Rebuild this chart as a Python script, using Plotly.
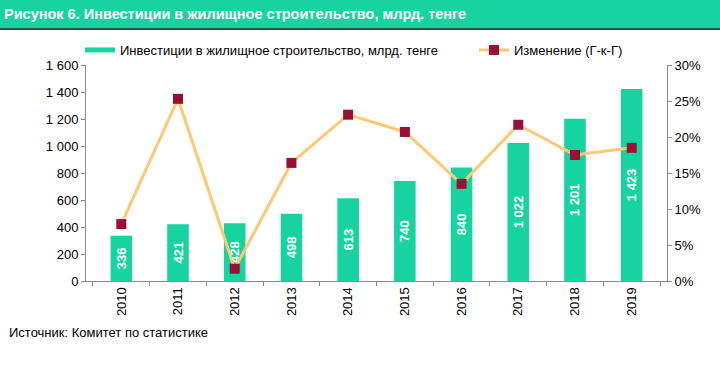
import plotly.graph_objects as go

years = ["2010", "2011", "2012", "2013", "2014", "2015", "2016", "2017", "2018", "2019"]
investments = [336, 421, 428, 498, 613, 740, 840, 1022, 1201, 1423]
change_pct = [7.9, 25.3, 1.7, 16.4, 23.1, 20.7, 13.5, 21.7, 17.5, 18.5]
left_ticks = [0, 200, 400, 600, 800, 1000, 1200, 1400, 1600]
left_tick_labels = ["0", "200", "400", "600", "800", "1 000", "1 200", "1 400", "1 600"]
right_ticks = [0, 5, 10, 15, 20, 25, 30]
right_tick_labels = ["0%", "5%", "10%", "15%", "20%", "25%", "30%"]

title_text = "Рисунок 6. Инвестиции в жилищное строительство, млрд. тенге"
bar_name = "Инвестиции в жилищное строительство, млрд. тенге"
line_name = "Изменение (Г-к-Г)"
source_text = "Источник: Комитет по статистике"

GREEN = "#16D39F"
ORANGE = "#FFC874"
RED = "#9A0F36"
AXIS = "#8C8C8C"
FONT = "Liberation Sans, Arial, sans-serif"

L, R, T, B = 86, 53, 65, 84
PW, PH = 720 - L - R, 365 - T - B

fig = go.Figure()
fig.add_trace(go.Bar(
    x=years, y=investments, marker=dict(color=GREEN, line=dict(width=0)),
    texttemplate="<b>%{y:,.0f}</b>", textposition="inside", insidetextanchor="middle",
    textangle=-90, textfont=dict(color="white", size=13, family=FONT),
    showlegend=False, name=bar_name,
))
# legend entry for bars (thick line as rectangle swatch)
fig.add_trace(go.Scatter(
    x=[None], y=[None], mode="lines", line=dict(color=GREEN, width=5),
    name=bar_name, showlegend=True, legend="legend",
))
fig.add_trace(go.Scatter(
    x=years, y=change_pct, yaxis="y2", mode="lines+markers",
    line=dict(color=ORANGE, width=3),
    marker=dict(symbol="square", size=10, color=RED, line=dict(width=0)),
    name=line_name, legend="legend2",
))

legend_common = dict(orientation="h", xref="container", yref="container",
                     y=1 - 50 / 365, xanchor="left", yanchor="middle",
                     font=dict(size=13), bgcolor="rgba(0,0,0,0)")

fig.update_layout(
    width=720, height=365,
    margin=dict(l=L, r=R, t=T, b=B, autoexpand=False),
    paper_bgcolor="white", plot_bgcolor="white",
    separators=", ",
    font=dict(family=FONT, size=13, color="#000000"),
    bargap=0.62,
    showlegend=True,
    legend=dict(x=80 / 720, **legend_common),
    legend2=dict(x=474 / 720, **legend_common),
    xaxis=dict(type="category", tickangle=-90, showline=True, linecolor=AXIS,
               linewidth=1, ticks="outside", tickson="boundaries", ticklen=4,
               tickcolor=AXIS, showgrid=False, zeroline=False,
               tickfont=dict(size=13)),
    yaxis=dict(range=[0, 1600], tickvals=left_ticks, ticktext=left_tick_labels,
               showline=True, linecolor=AXIS,
               ticks="outside", ticklen=4, tickcolor=AXIS, showgrid=False,
               zeroline=False, tickfont=dict(size=13)),
    yaxis2=dict(range=[0, 30], tickvals=right_ticks, ticktext=right_tick_labels,
                overlaying="y", side="right", showline=True, linecolor=AXIS,
                ticks="outside", ticklen=4, tickcolor=AXIS, showgrid=False,
                zeroline=False, tickfont=dict(size=13)),
    shapes=[
        dict(type="rect", xref="paper", yref="paper", x0=-L / PW, x1=1 + R / PW,
             y0=1 + (T - 28) / PH, y1=1 + T / PH, fillcolor=GREEN,
             line=dict(width=0), layer="below"),
        dict(type="line", xref="paper", yref="paper", x0=-L / PW, x1=1 + R / PW,
             y0=1 + (T - 29) / PH, y1=1 + (T - 29) / PH,
             line=dict(color="#1F5A48", width=2)),
    ],
    annotations=[
        dict(text="<b>" + title_text + "</b>", xref="paper", yref="paper",
             x=-84 / PW, y=1 + (T - 14) / PH, xanchor="left", yanchor="middle",
             showarrow=False, font=dict(size=14.5, color="white", family=FONT)),
        dict(text=source_text, xref="paper", yref="paper",
             x=-79 / PW, y=-(332 - (365 - B)) / PH, xanchor="left", yanchor="middle",
             showarrow=False, font=dict(size=13, color="black", family=FONT)),
    ],
)

fig.write_html("out.html", config={"displayModeBar": False},
               post_script="document.body.style.margin='0';")
